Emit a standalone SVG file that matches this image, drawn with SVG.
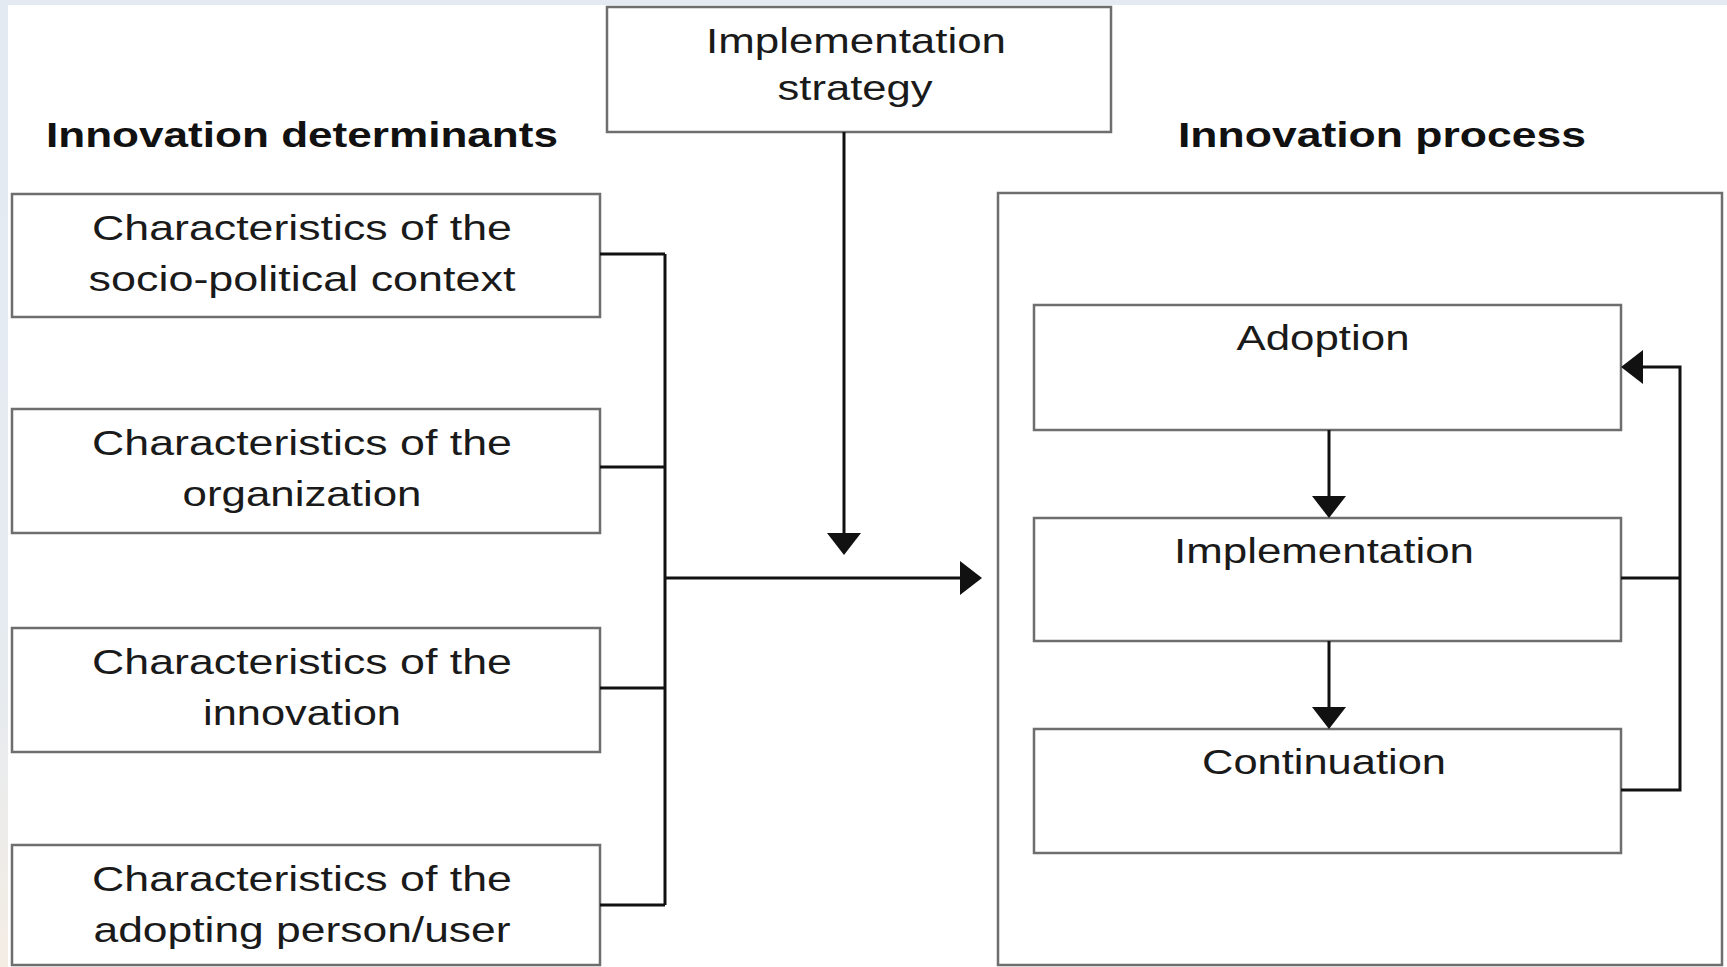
<svg xmlns="http://www.w3.org/2000/svg" width="1727" height="967" viewBox="0 0 1727 967">
  <defs>
    <linearGradient id="side" x1="0" y1="0" x2="0" y2="1">
      <stop offset="0" stop-color="#e3eaf2"/>
      <stop offset="0.7" stop-color="#e6ebf0"/>
      <stop offset="1" stop-color="#f4ede4"/>
    </linearGradient>
    <marker id="arrow" viewBox="0 0 22 34" markerWidth="22" markerHeight="34" refX="18" refY="17" orient="auto" markerUnits="userSpaceOnUse">
      <path d="M0,0 L22,17 L0,34 Z" fill="#111"/>
    </marker>
    <style>
      .box { fill: #ffffff; stroke: #6e6e6e; stroke-width: 2.5; }
      .t { font-family: "Liberation Sans", Arial, sans-serif; font-size: 35px; fill: #1a1a1a; text-anchor: middle; }
      .h { font-family: "Liberation Sans", Arial, sans-serif; font-size: 35px; font-weight: bold; fill: #111; text-anchor: middle; }
      .c { fill: none; stroke: #111; stroke-width: 3; }
    </style>
  </defs>

  <rect x="0" y="0" width="1727" height="967" fill="#ffffff"/>
  <rect x="0" y="0" width="1727" height="5" fill="#e3eaf2"/>
  <rect x="0" y="0" width="8" height="967" fill="url(#side)"/>

  <text class="h" x="302" y="147" textLength="512" lengthAdjust="spacingAndGlyphs">Innovation  determinants</text>
  <text class="h" x="1382" y="147" textLength="408" lengthAdjust="spacingAndGlyphs">Innovation  process</text>

  <g id="strategy">
    <rect class="box" x="607" y="7" width="504" height="125"/>
    <text class="t" x="856" y="53" textLength="300" lengthAdjust="spacingAndGlyphs">Implementation</text>
    <text class="t" x="855" y="100" textLength="155" lengthAdjust="spacingAndGlyphs">strategy</text>
  </g>

  <g id="det-context">
    <rect class="box" x="12" y="194" width="588" height="123"/>
    <text class="t" x="302" y="240" textLength="420" lengthAdjust="spacingAndGlyphs">Characteristics  of the</text>
    <text class="t" x="302" y="291" textLength="427" lengthAdjust="spacingAndGlyphs">socio-political  context</text>
  </g>
  <g id="det-organization">
    <rect class="box" x="12" y="409" width="588" height="124"/>
    <text class="t" x="302" y="455" textLength="420" lengthAdjust="spacingAndGlyphs">Characteristics  of the</text>
    <text class="t" x="302" y="506" textLength="239" lengthAdjust="spacingAndGlyphs">organization</text>
  </g>
  <g id="det-innovation">
    <rect class="box" x="12" y="628" width="588" height="124"/>
    <text class="t" x="302" y="674" textLength="420" lengthAdjust="spacingAndGlyphs">Characteristics  of the</text>
    <text class="t" x="302" y="725" textLength="198" lengthAdjust="spacingAndGlyphs">innovation</text>
  </g>
  <g id="det-user">
    <rect class="box" x="12" y="845" width="588" height="120"/>
    <text class="t" x="302" y="891" textLength="420" lengthAdjust="spacingAndGlyphs">Characteristics  of the</text>
    <text class="t" x="302" y="942" textLength="417" lengthAdjust="spacingAndGlyphs">adopting  person/user</text>
  </g>

  <g id="process">
    <rect class="box" x="998" y="193" width="724" height="772"/>
  </g>
  <g id="adoption">
    <rect class="box" x="1034" y="305" width="587" height="125"/>
    <text class="t" x="1323" y="350" textLength="173" lengthAdjust="spacingAndGlyphs">Adoption</text>
  </g>
  <g id="implementation">
    <rect class="box" x="1034" y="518" width="587" height="123"/>
    <text class="t" x="1324" y="563" textLength="300" lengthAdjust="spacingAndGlyphs">Implementation</text>
  </g>
  <g id="continuation">
    <rect class="box" x="1034" y="729" width="587" height="124"/>
    <text class="t" x="1324" y="774" textLength="244" lengthAdjust="spacingAndGlyphs">Continuation</text>
  </g>

  <g id="connectors">
    <path class="c" d="M600 254 H665 M600 467 H665 M600 688 H665 M600 905 H665 M665 254 V905"/>
    <path class="c" d="M665 578 H978" marker-end="url(#arrow)"/>
    <path class="c" d="M844 132 V551" marker-end="url(#arrow)"/>
    <path class="c" d="M1329 430 V514" marker-end="url(#arrow)"/>
    <path class="c" d="M1329 641 V725" marker-end="url(#arrow)"/>
    <path class="c" d="M1621 578 H1680"/>
    <path class="c" d="M1621 790 H1680 V367 H1625" marker-end="url(#arrow)"/>
  </g>
</svg>
